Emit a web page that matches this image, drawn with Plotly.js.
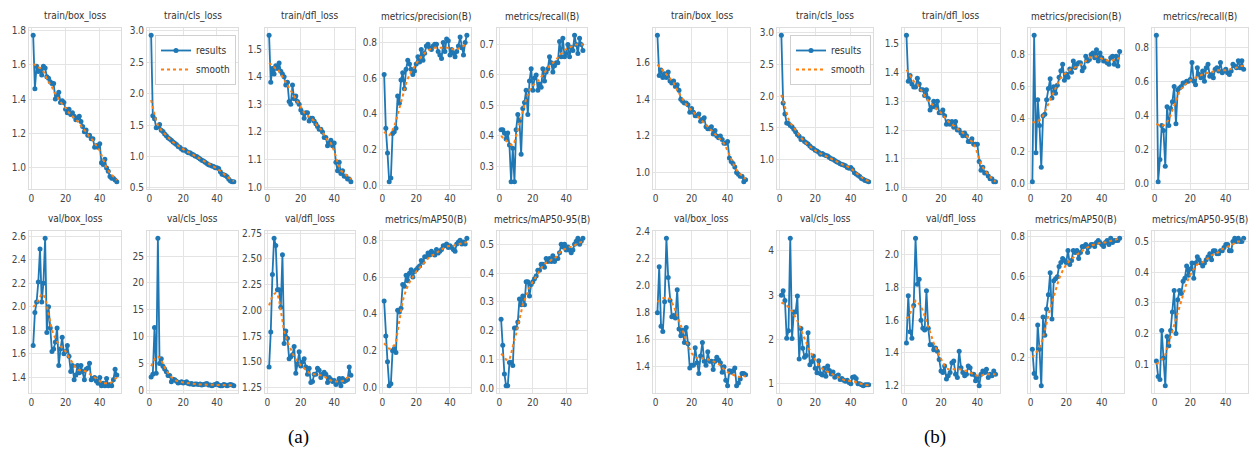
<!DOCTYPE html>
<html>
<head>
<meta charset="utf-8">
<script src="https://cdn.plot.ly/plotly-3.0.1.min.js"></script>
<style>html,body{margin:0;padding:0;background:#fff;}#chart{width:1251px;height:455px;}</style>
</head>
<body>
<div id="chart"></div>
<script>
// ---------- DATA ----------
const epochs = [1,2,3,4,5,6,7,8,9,10,11,12,13,14,15,16,17,18,19,20,21,22,23,24,25,26,27,28,29,30,31,32,33,34,35,36,37,38,39,40,41,42,43,44,45,46,47,48,49,50];
const smoothEpochs = [1,2,3,4,5,6,7,8,9,10,12,14,16,18,20,22,24,26,28,30,32,34,36,38,40,42,44,46,48,50];
const xTicks = [0,20,40];

const panelTitles = ["train/box_loss","train/cls_loss","train/dfl_loss","metrics/precision(B)","metrics/recall(B)",
                     "val/box_loss","val/cls_loss","val/dfl_loss","metrics/mAP50(B)","metrics/mAP50-95(B)"];
const captions = ["(a)","(b)"];
const legendNames = ["results","smooth"];

// (a)
const aTrainBox = [1.77,1.46,1.59,1.56,1.57,1.54,1.59,1.58,1.53,1.52,1.50,1.49,1.49,1.40,1.42,1.44,1.38,1.39,1.38,1.34,1.32,1.34,1.31,1.32,1.30,1.28,1.29,1.30,1.27,1.24,1.21,1.22,1.19,1.19,1.17,1.17,1.12,1.13,1.12,1.14,1.03,1.02,1.05,1.00,0.98,0.95,0.94,0.94,0.93,0.92];
const aTrainCls = [2.93,1.65,1.60,1.46,1.47,1.51,1.42,1.40,1.36,1.33,1.30,1.28,1.26,1.23,1.21,1.19,1.16,1.15,1.12,1.10,1.11,1.08,1.06,1.06,1.04,1.03,1.01,1.00,0.98,0.96,0.94,0.93,0.91,0.89,0.87,0.86,0.85,0.84,0.82,0.82,0.81,0.76,0.72,0.71,0.70,0.68,0.64,0.61,0.60,0.60];
const aTrainDfl = [1.55,1.38,1.43,1.41,1.44,1.43,1.45,1.42,1.41,1.40,1.37,1.38,1.31,1.30,1.37,1.32,1.33,1.31,1.30,1.28,1.27,1.25,1.27,1.27,1.24,1.25,1.25,1.24,1.23,1.22,1.21,1.21,1.20,1.18,1.18,1.15,1.16,1.17,1.15,1.16,1.09,1.06,1.09,1.05,1.06,1.04,1.04,1.03,1.03,1.02];
const aPrecision = [0.62,0.32,0.18,0.02,0.04,0.29,0.30,0.32,0.50,0.46,0.59,0.63,0.54,0.65,0.70,0.68,0.65,0.62,0.64,0.68,0.72,0.69,0.76,0.70,0.74,0.78,0.79,0.77,0.76,0.78,0.79,0.79,0.75,0.73,0.71,0.80,0.75,0.82,0.81,0.73,0.76,0.74,0.72,0.75,0.78,0.83,0.77,0.73,0.80,0.84];
const aRecall = [0.42,0.42,0.41,0.39,0.41,0.37,0.25,0.36,0.25,0.42,0.47,0.45,0.34,0.49,0.51,0.55,0.47,0.58,0.62,0.55,0.59,0.60,0.55,0.57,0.56,0.62,0.58,0.61,0.62,0.66,0.64,0.61,0.63,0.64,0.64,0.71,0.66,0.72,0.66,0.67,0.70,0.66,0.69,0.68,0.73,0.70,0.67,0.72,0.70,0.68];
const aValBox = [1.67,1.95,2.04,2.21,2.49,2.04,2.20,2.58,1.78,2.00,1.82,1.62,1.64,1.70,1.82,1.50,1.64,1.74,1.60,1.62,1.67,1.58,1.45,1.50,1.38,1.42,1.50,1.44,1.50,1.45,1.38,1.47,1.48,1.52,1.38,1.39,1.40,1.37,1.35,1.40,1.33,1.35,1.33,1.39,1.33,1.34,1.33,1.38,1.47,1.42];
const aValCls = [2.5,3.0,11.7,3.2,28.3,5.0,5.9,4.5,4.0,3.5,2.8,2.8,1.6,2.1,2.0,1.7,1.4,1.5,1.6,1.4,1.5,1.6,1.3,1.2,1.3,1.1,1.2,1.2,1.1,1.2,1.0,1.1,1.2,1.3,1.0,1.0,0.9,1.0,1.1,1.3,1.0,0.9,0.9,1.1,1.0,0.9,1.0,1.1,1.0,0.9];
const aValDfl = [1.45,1.79,2.35,2.70,2.63,2.20,2.20,2.03,2.54,1.68,1.80,1.73,1.53,1.55,1.57,1.65,1.39,1.48,1.60,1.46,1.50,1.53,1.45,1.38,1.44,1.30,1.31,1.38,1.38,1.44,1.42,1.35,1.38,1.40,1.38,1.30,1.35,1.33,1.31,1.32,1.28,1.30,1.34,1.27,1.34,1.31,1.32,1.33,1.45,1.37];
const aMap50 = [0.47,0.28,0.14,0.01,0.02,0.20,0.21,0.19,0.42,0.41,0.43,0.56,0.55,0.61,0.58,0.62,0.64,0.60,0.63,0.64,0.65,0.66,0.69,0.68,0.71,0.71,0.73,0.72,0.74,0.73,0.72,0.75,0.73,0.74,0.75,0.77,0.77,0.78,0.76,0.77,0.76,0.75,0.74,0.78,0.79,0.80,0.78,0.79,0.78,0.81];
const aMap5095 = [0.24,0.15,0.05,0.01,0.01,0.09,0.09,0.08,0.21,0.21,0.23,0.31,0.29,0.32,0.29,0.37,0.37,0.32,0.36,0.37,0.38,0.39,0.41,0.41,0.43,0.43,0.42,0.45,0.44,0.45,0.44,0.46,0.44,0.45,0.45,0.47,0.50,0.49,0.50,0.48,0.49,0.48,0.47,0.48,0.50,0.51,0.52,0.50,0.51,0.52];

const aTrainBoxSmooth = [1.60,1.60,1.59,1.585,1.58,1.57,1.56,1.54,1.52,1.50,1.47,1.43,1.40,1.37,1.35,1.32,1.30,1.28,1.26,1.23,1.21,1.18,1.16,1.13,1.10,1.05,1.00,0.97,0.95,0.93];
const aTrainClsSmooth = [1.90,1.78,1.66,1.56,1.50,1.45,1.42,1.39,1.36,1.33,1.28,1.23,1.19,1.15,1.11,1.08,1.06,1.03,1.00,0.97,0.93,0.90,0.87,0.84,0.81,0.77,0.72,0.68,0.64,0.61];
const aTrainDflSmooth = [1.45,1.445,1.44,1.435,1.43,1.43,1.42,1.41,1.40,1.39,1.37,1.35,1.33,1.31,1.29,1.27,1.26,1.25,1.24,1.22,1.21,1.19,1.17,1.16,1.13,1.09,1.06,1.05,1.04,1.03];
const aPrecisionSmooth = [0.30,0.29,0.28,0.28,0.29,0.31,0.33,0.36,0.40,0.43,0.50,0.57,0.62,0.65,0.68,0.71,0.73,0.75,0.76,0.77,0.77,0.77,0.77,0.77,0.77,0.76,0.76,0.77,0.78,0.79];
const aRecallSmooth = [0.40,0.395,0.39,0.385,0.38,0.375,0.37,0.37,0.38,0.40,0.44,0.48,0.52,0.55,0.565,0.575,0.585,0.60,0.615,0.63,0.64,0.65,0.665,0.675,0.685,0.69,0.695,0.70,0.70,0.70];
const aValBoxSmooth = [2.00,2.01,2.03,2.06,2.09,2.11,2.10,2.07,2.01,1.93,1.80,1.73,1.68,1.65,1.62,1.57,1.52,1.48,1.46,1.46,1.45,1.43,1.41,1.39,1.37,1.35,1.35,1.35,1.37,1.40];
const aValClsSmooth = [4.5,5.2,5.8,6.2,6.3,6.1,5.6,5.0,4.3,3.7,2.8,2.2,1.8,1.6,1.5,1.4,1.3,1.2,1.15,1.1,1.1,1.1,1.0,1.0,1.05,1.0,1.0,0.95,0.95,0.95];
const aValDflSmooth = [2.05,2.10,2.14,2.16,2.17,2.16,2.10,2.00,1.88,1.80,1.70,1.62,1.55,1.50,1.47,1.44,1.41,1.38,1.38,1.38,1.37,1.36,1.34,1.32,1.31,1.31,1.31,1.32,1.35,1.37];
const aMap50Smooth = [0.24,0.23,0.22,0.21,0.21,0.22,0.23,0.25,0.31,0.37,0.47,0.53,0.57,0.60,0.63,0.65,0.67,0.69,0.71,0.72,0.73,0.745,0.755,0.765,0.77,0.77,0.775,0.78,0.785,0.79];
const aMap5095Smooth = [0.12,0.115,0.11,0.10,0.10,0.10,0.12,0.15,0.17,0.19,0.245,0.29,0.32,0.35,0.37,0.39,0.41,0.425,0.435,0.44,0.45,0.455,0.47,0.48,0.485,0.49,0.49,0.50,0.505,0.51];

// (b)
const bTrainBox = [1.75,1.53,1.56,1.52,1.54,1.52,1.55,1.50,1.49,1.50,1.47,1.48,1.45,1.40,1.39,1.38,1.38,1.37,1.33,1.35,1.33,1.31,1.31,1.32,1.28,1.29,1.30,1.25,1.24,1.24,1.25,1.21,1.23,1.20,1.19,1.20,1.18,1.16,1.16,1.17,1.08,1.06,1.05,1.03,1.00,0.99,0.98,0.98,0.95,0.96];
const bTrainCls = [2.95,1.89,1.72,1.58,1.57,1.54,1.52,1.48,1.44,1.40,1.37,1.32,1.33,1.29,1.27,1.25,1.22,1.19,1.18,1.15,1.14,1.12,1.09,1.10,1.08,1.07,1.06,1.04,1.02,1.01,0.99,0.97,0.96,0.94,0.93,0.92,0.91,0.88,0.87,0.88,0.85,0.80,0.78,0.76,0.74,0.71,0.70,0.68,0.67,0.66];
const bTrainDfl = [1.53,1.37,1.39,1.36,1.35,1.35,1.38,1.36,1.34,1.34,1.32,1.34,1.31,1.27,1.28,1.30,1.28,1.30,1.26,1.26,1.27,1.25,1.22,1.23,1.22,1.23,1.21,1.23,1.20,1.20,1.19,1.18,1.19,1.18,1.16,1.16,1.17,1.15,1.15,1.15,1.09,1.06,1.07,1.05,1.05,1.04,1.03,1.03,1.02,1.02];
const bPrecision = [0.01,0.92,0.19,0.52,0.36,0.10,0.42,0.43,0.52,0.59,0.65,0.53,0.60,0.56,0.61,0.66,0.70,0.74,0.64,0.68,0.66,0.71,0.69,0.76,0.72,0.74,0.75,0.75,0.70,0.72,0.79,0.76,0.77,0.80,0.81,0.78,0.83,0.76,0.81,0.78,0.76,0.76,0.75,0.74,0.78,0.79,0.74,0.79,0.73,0.82];
const bRecall = [0.87,0.01,0.14,0.34,0.31,0.10,0.45,0.34,0.44,0.48,0.57,0.35,0.55,0.56,0.57,0.59,0.59,0.60,0.60,0.61,0.71,0.60,0.58,0.68,0.64,0.62,0.66,0.60,0.68,0.70,0.63,0.64,0.62,0.67,0.68,0.66,0.71,0.65,0.66,0.67,0.65,0.64,0.66,0.70,0.69,0.68,0.72,0.68,0.72,0.67];
const bValBox = [1.80,2.14,1.70,1.66,1.88,2.35,2.06,1.89,1.77,1.78,1.76,1.97,1.68,1.63,1.67,1.58,1.69,1.57,1.39,1.41,1.41,1.54,1.43,1.35,1.48,1.58,1.44,1.41,1.51,1.44,1.44,1.38,1.44,1.47,1.45,1.43,1.36,1.40,1.30,1.26,1.37,1.36,1.37,1.39,1.26,1.28,1.31,1.35,1.35,1.34];
const bValCls = [3.00,3.10,2.88,2.03,2.20,4.28,2.02,2.62,2.62,2.98,1.56,2.25,1.80,1.60,1.64,2.15,1.43,1.50,1.63,1.35,1.25,1.52,1.23,1.20,1.35,1.17,1.40,1.30,1.22,1.27,1.15,1.18,1.20,1.10,1.12,1.08,1.06,1.08,1.03,1.00,1.15,1.16,1.12,1.00,1.00,0.98,0.96,0.98,0.98,0.98];
const bValDfl = [1.46,1.75,1.53,1.49,1.69,2.10,1.82,1.85,1.60,1.55,1.54,1.78,1.55,1.45,1.45,1.42,1.43,1.41,1.36,1.29,1.28,1.32,1.24,1.26,1.28,1.34,1.35,1.27,1.25,1.41,1.31,1.28,1.26,1.27,1.32,1.31,1.27,1.27,1.23,1.25,1.20,1.27,1.29,1.28,1.30,1.25,1.27,1.26,1.29,1.27];
const bMap50 = [0.24,0.12,0.10,0.36,0.24,0.06,0.40,0.31,0.44,0.51,0.62,0.39,0.58,0.59,0.60,0.65,0.67,0.69,0.68,0.67,0.73,0.66,0.68,0.73,0.72,0.73,0.69,0.72,0.75,0.75,0.76,0.72,0.75,0.76,0.76,0.75,0.77,0.78,0.77,0.76,0.75,0.77,0.78,0.76,0.79,0.77,0.78,0.78,0.78,0.79];
const bMap5095 = [0.11,0.06,0.05,0.21,0.12,0.03,0.19,0.16,0.21,0.27,0.34,0.20,0.31,0.34,0.33,0.37,0.38,0.42,0.39,0.41,0.43,0.38,0.43,0.45,0.44,0.43,0.42,0.43,0.44,0.45,0.46,0.44,0.47,0.47,0.46,0.46,0.47,0.47,0.48,0.49,0.49,0.47,0.47,0.50,0.51,0.50,0.51,0.50,0.50,0.51];

const bTrainBoxSmooth = [1.59,1.58,1.57,1.56,1.55,1.54,1.53,1.515,1.50,1.49,1.45,1.415,1.385,1.36,1.34,1.32,1.30,1.28,1.26,1.24,1.22,1.20,1.18,1.16,1.12,1.07,1.03,1.00,0.98,0.965];
const bTrainClsSmooth = [2.02,1.93,1.82,1.72,1.64,1.58,1.54,1.50,1.46,1.42,1.35,1.29,1.23,1.19,1.15,1.11,1.09,1.06,1.03,1.00,0.97,0.95,0.92,0.90,0.87,0.82,0.77,0.73,0.69,0.67];
const bTrainDflSmooth = [1.41,1.40,1.39,1.38,1.37,1.365,1.36,1.35,1.34,1.33,1.31,1.295,1.285,1.27,1.26,1.245,1.23,1.22,1.21,1.20,1.19,1.18,1.165,1.155,1.12,1.08,1.06,1.045,1.03,1.02];
const bPrecisionSmooth = [0.38,0.38,0.38,0.385,0.39,0.40,0.42,0.445,0.47,0.50,0.55,0.60,0.64,0.67,0.69,0.705,0.715,0.725,0.735,0.75,0.77,0.785,0.79,0.785,0.775,0.765,0.76,0.765,0.77,0.78];
const bRecallSmooth = [0.35,0.345,0.34,0.34,0.34,0.35,0.36,0.38,0.40,0.43,0.49,0.54,0.57,0.59,0.605,0.615,0.625,0.635,0.645,0.65,0.655,0.66,0.665,0.665,0.665,0.67,0.675,0.68,0.69,0.69];
const bValBoxSmooth = [1.88,1.89,1.90,1.905,1.91,1.91,1.91,1.90,1.88,1.85,1.78,1.70,1.63,1.56,1.50,1.47,1.46,1.46,1.46,1.45,1.44,1.43,1.41,1.38,1.36,1.345,1.335,1.325,1.325,1.33];
const bValClsSmooth = [2.83,2.82,2.80,2.77,2.73,2.69,2.64,2.57,2.50,2.42,2.22,2.02,1.83,1.67,1.53,1.42,1.34,1.29,1.25,1.21,1.17,1.13,1.09,1.07,1.06,1.05,1.02,0.99,0.975,0.97];
const bValDflSmooth = [1.61,1.62,1.64,1.665,1.69,1.72,1.715,1.70,1.68,1.66,1.59,1.52,1.46,1.41,1.36,1.32,1.30,1.30,1.30,1.30,1.295,1.29,1.28,1.27,1.26,1.26,1.27,1.27,1.27,1.27];
const bMap50Smooth = [0.20,0.21,0.22,0.235,0.25,0.27,0.30,0.33,0.37,0.41,0.47,0.54,0.59,0.63,0.66,0.68,0.695,0.71,0.72,0.735,0.745,0.755,0.76,0.765,0.77,0.77,0.775,0.78,0.785,0.79];
const bMap5095Smooth = [0.10,0.105,0.11,0.115,0.12,0.13,0.15,0.17,0.19,0.21,0.25,0.29,0.33,0.365,0.39,0.41,0.425,0.43,0.435,0.445,0.455,0.46,0.465,0.475,0.48,0.485,0.49,0.50,0.50,0.505];

// ---------- PANEL SPEC (built from the arrays above) ----------
const seriesA = [aTrainBox,aTrainCls,aTrainDfl,aPrecision,aRecall,aValBox,aValCls,aValDfl,aMap50,aMap5095];
const smoothA = [aTrainBoxSmooth,aTrainClsSmooth,aTrainDflSmooth,aPrecisionSmooth,aRecallSmooth,aValBoxSmooth,aValClsSmooth,aValDflSmooth,aMap50Smooth,aMap5095Smooth];
const seriesB = [bTrainBox,bTrainCls,bTrainDfl,bPrecision,bRecall,bValBox,bValCls,bValDfl,bMap50,bMap5095];
const smoothB = [bTrainBoxSmooth,bTrainClsSmooth,bTrainDflSmooth,bPrecisionSmooth,bRecallSmooth,bValBoxSmooth,bValClsSmooth,bValDflSmooth,bMap50Smooth,bMap5095Smooth];

// tick settings per panel [dtick, format]
const tickA = [[0.2,'.1f'],[0.5,'.1f'],[0.1,'.1f'],[0.2,'.1f'],[0.1,'.1f'],[0.2,'.1f'],[5,'d'],[0.25,'.2f'],[0.2,'.1f'],[0.1,'.1f']];
const tickB = [[0.2,'.1f'],[0.5,'.1f'],[0.1,'.1f'],[0.2,'.1f'],[0.2,'.1f'],[0.2,'.1f'],[1,'d'],[0.2,'.1f'],[0.2,'.1f'],[0.1,'.1f']];

// ---------- LAYOUT GEOMETRY (pixels) ----------
const W = 1251, H = 455;
const colsA = [[29,121],[147,238],[265,355],[380,471],[497,587]];
const colsB = [[653,750],[777,873],[902,1000],[1028,1124],[1152,1248]];
const rowsY = [[28,189],[231,393]];

const FONT = '"Liberation Sans Narrow", "DejaVu Sans Condensed", "Arial Narrow", sans-serif';
const BLUE = '#1f77b4', ORANGE = '#ff7f0e';

const data = [];
const layout = {
  width: W, height: H,
  margin: {l:0, r:0, t:0, b:0},
  paper_bgcolor: '#ffffff', plot_bgcolor: '#ffffff',
  font: {family: FONT, size: 10, color: '#444'},
  showlegend: true,
  annotations: [],
  legend: {x: 236/W, xanchor: 'right', y: 1 - 35/H, yanchor: 'top',
           bgcolor: 'rgba(255,255,255,0.85)', bordercolor: '#d0d0d0', borderwidth: 1,
           font: {family: FONT, size: 10, color: '#333'}, itemwidth: 30, tracegroupgap: 0},
  legend2: {x: 871/W, xanchor: 'right', y: 1 - 35/H, yanchor: 'top',
           bgcolor: 'rgba(255,255,255,0.85)', bordercolor: '#d0d0d0', borderwidth: 1,
           font: {family: FONT, size: 10, color: '#333'}, itemwidth: 30, tracegroupgap: 0}
};

let k = 0;
function addGroup(series, smooth, ticks, cols, legendId) {
  for (let p = 0; p < 10; p++) {
    k++;
    const row = p < 5 ? 0 : 1, col = p % 5;
    const xa = 'x' + k, ya = 'y' + k;
    const xk = 'xaxis' + k, yk = 'yaxis' + k;
    const all = series[p].concat(smooth[p]);
    const lo = Math.min(...all), hi = Math.max(...all);
    const pad = 0.05 * (hi - lo);
    const showLeg = (p === 1);
    data.push({x: epochs, y: series[p], xaxis: xa, yaxis: ya, type: 'scatter', mode: 'lines+markers',
      name: legendNames[0], legend: legendId, showlegend: showLeg,
      line: {color: BLUE, width: 1.8}, marker: {color: BLUE, size: 5}});
    data.push({x: smoothEpochs, y: smooth[p], xaxis: xa, yaxis: ya, type: 'scatter', mode: 'lines',
      name: legendNames[1], legend: legendId, showlegend: showLeg,
      line: {color: ORANGE, width: 2, dash: 'dot'}});
    const [x0, x1] = cols[col], [yt, yb] = rowsY[row];
    layout[xk] = {domain: [x0/W, x1/W], anchor: ya, range: [-1.45, 52.45],
      tickmode: 'array', tickvals: xTicks, ticktext: xTicks.map(String),
      showgrid: true, gridcolor: '#e4e4e4', gridwidth: 1, zeroline: false,
      showline: true, mirror: true, linecolor: '#dddddd', linewidth: 1,
      ticks: '', tickfont: {family: FONT, size: 10, color: '#444'}, fixedrange: true};
    layout[yk] = {domain: [1 - yb/H, 1 - yt/H], anchor: xa, range: [lo - pad, hi + pad],
      tick0: 0, dtick: ticks[p][0], tickformat: ticks[p][1],
      showgrid: true, gridcolor: '#e4e4e4', gridwidth: 1, zeroline: false,
      showline: true, mirror: true, linecolor: '#dddddd', linewidth: 1,
      ticks: '', tickfont: {family: FONT, size: 10, color: '#444'}, fixedrange: true};
    layout.annotations.push({text: panelTitles[p], xref: 'paper', yref: 'paper',
      x: (x0 + x1) / 2 / W, y: 1 - (yt - 4) / H, xanchor: 'center', yanchor: 'bottom',
      showarrow: false, font: {family: FONT, size: 10, color: '#333'}});
  }
}
addGroup(seriesA, smoothA, tickA, colsA, 'legend');
addGroup(seriesB, smoothB, tickB, colsB, 'legend2');

layout.annotations.push({text: captions[0], xref: 'paper', yref: 'paper', x: 298/W, y: 1 - 437/H,
  xanchor: 'center', yanchor: 'middle', showarrow: false,
  font: {family: '"Liberation Serif", "DejaVu Serif", serif', size: 19, color: '#000'}});
layout.annotations.push({text: captions[1], xref: 'paper', yref: 'paper', x: 935/W, y: 1 - 437/H,
  xanchor: 'center', yanchor: 'middle', showarrow: false,
  font: {family: '"Liberation Serif", "DejaVu Serif", serif', size: 19, color: '#000'}});

Plotly.newPlot('chart', data, layout, {displayModeBar: false, staticPlot: true});
</script>
</body>
</html>
